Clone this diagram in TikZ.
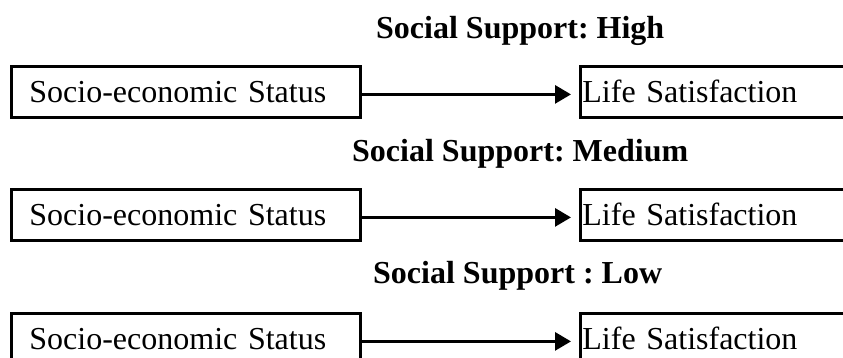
\documentclass[tikz,border=0pt]{standalone}
\usepackage{fontspec}
\setmainfont{Liberation Serif}
\usetikzlibrary{arrows.meta}
\begin{document}
\frenchspacing
\begin{tikzpicture}[x=1pt,y=-1pt,
  every node/.style={font=\fontsize{32}{38}\selectfont},
  leftbox/.style={draw, line width=2.8pt, anchor=north west, minimum width=349pt, minimum height=51pt,
    inner xsep=18pt, inner ysep=0pt, text width=313pt, align=left, text height=22pt, text depth=0pt},
  rightbox/.style={draw, line width=2.8pt, anchor=north west, minimum width=320pt, minimum height=51pt,
    inner xsep=2pt, inner ysep=0pt, text width=316pt, align=left, text height=22pt, text depth=0pt},
  titlenode/.style={anchor=base west, inner sep=0pt, font=\fontsize{32}{38}\selectfont\bfseries},
  arr/.style={line width=3pt, -{Triangle[length=16pt,width=18pt]}, shorten >=8pt}
]
\useasboundingbox (0,0) rectangle (843,358);
\clip (0,0) rectangle (843,358);

\node[titlenode] (t1) at (376,39) {Social Support: High};
\node[leftbox] (s1) at (10,65) {Socio-economic Status};
\node[rightbox] (l1) at (579,65) {Life Satisfaction};
\draw[arr] ([yshift=-2.5pt]s1.east) -- ([yshift=-2.5pt]s1.east -| l1.west);

\node[titlenode] (t2) at (352,162) {Social Support: Medium};
\node[leftbox] (s2) at (10,188) {Socio-economic Status};
\node[rightbox] (l2) at (579,188) {Life Satisfaction};
\draw[arr] ([yshift=-2.5pt]s2.east) -- ([yshift=-2.5pt]s2.east -| l2.west);

\node[titlenode] (t3) at (373,283) {Social Support : Low};
\node[leftbox] (s3) at (10,312) {Socio-economic Status};
\node[rightbox] (l3) at (579,312) {Life Satisfaction};
\draw[arr] ([yshift=-2.5pt]s3.east) -- ([yshift=-2.5pt]s3.east -| l3.west);
\end{tikzpicture}
\end{document}
